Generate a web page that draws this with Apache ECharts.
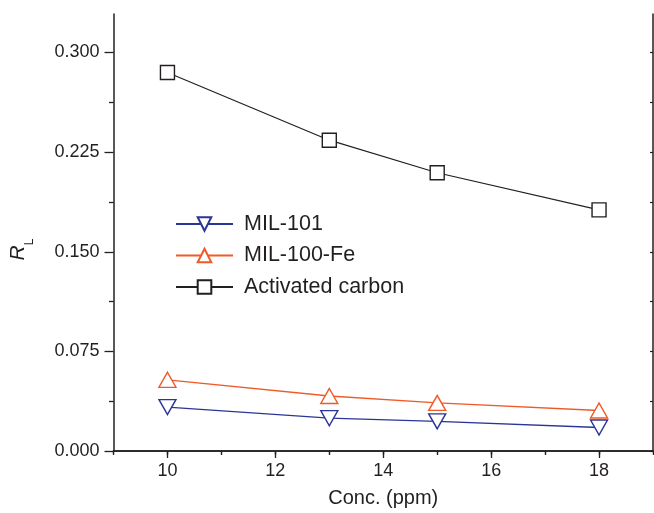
<!DOCTYPE html>
<html>
<head>
<meta charset="utf-8">
<script src="https://cdn.jsdelivr.net/npm/echarts@6/dist/echarts.min.js"></script>
<style>
  html, body { margin: 0; padding: 0; background: #fff; }
  #chart { width: 654px; height: 513px; }
</style>
</head>
<body>
<div id="chart"></div>
<script>
// Separation factor R_L against initial concentration for three adsorbents
const concentrations = [10, 13, 15, 18];
const mil101 = [0.0331, 0.0247, 0.0223, 0.0177];
const mil100Fe = [0.0536, 0.0414, 0.0362, 0.0305];
const activatedCarbon = [0.285, 0.234, 0.2095, 0.1815];

const seriesNames = ['MIL-101', 'MIL-100-Fe', 'Activated carbon'];
const xTickLabels = [10, 12, 14, 16, 18];
const yTickLabels = [0, 0.075, 0.15, 0.225, 0.3];
const yMinorTicks = [0.0375, 0.1125, 0.1875, 0.2625];

const ink = '#231f20';
const font = 'Liberation Sans, Arial, sans-serif';
const blue = '#2b3595';
const orange = '#f05a28';

const X_MIN = 9, X_MAX = 19, Y_MIN = 0, Y_MAX = 0.329;

function pairs(values) {
  return concentrations.map((c, i) => [c, values[i]]);
}

const chart = echarts.init(document.getElementById('chart'), null, { renderer: 'canvas' });

const axisLine = { show: true, lineStyle: { color: ink, width: 1.5 } };

chart.setOption({
  animation: false,
  backgroundColor: '#fff',
  textStyle: { fontFamily: font, color: ink },
  grid: { left: 111, right: 1, top: 14, bottom: 60 },
  legend: {
    data: seriesNames,
    orient: 'vertical',
    left: 170,
    top: 208,
    padding: 5,
    itemWidth: 57,
    itemHeight: 17,
    itemGap: 9.5,
    textStyle: { fontFamily: font, fontSize: 21.5, color: ink, lineHeight: 20, padding: [0, 0, 0, 6] }
  },
  xAxis: [
    {
      type: 'value', position: 'bottom', min: X_MIN, max: X_MAX,
      axisLine: axisLine,
      axisTick: { show: true, customValues: xTickLabels, length: 7, lineStyle: { color: ink, width: 1.3 } },
      axisLabel: { customValues: xTickLabels, fontFamily: font, fontSize: 18, color: ink, margin: 11 },
      splitLine: { show: false },
      name: 'Conc. (ppm)', nameLocation: 'middle', nameGap: 37,
      nameTextStyle: { fontFamily: font, fontSize: 20, color: ink }
    },
    {
      type: 'value', position: 'bottom', min: X_MIN, max: X_MAX, interval: 1,
      axisLine: { show: false },
      axisTick: { show: true, length: 4, lineStyle: { color: ink, width: 1.3 } },
      axisLabel: { show: false }, splitLine: { show: false }
    },
    {
      type: 'value', position: 'top', min: X_MIN, max: X_MAX, interval: 1,
      axisLine: axisLine,
      axisTick: { show: true, inside: true, length: 3, lineStyle: { color: ink, width: 1.2 } },
      axisLabel: { show: false }, splitLine: { show: false }
    }
  ],
  yAxis: [
    {
      type: 'value', position: 'left', min: Y_MIN, max: Y_MAX,
      axisLine: axisLine,
      axisTick: { show: true, customValues: yTickLabels, length: 9, lineStyle: { color: ink, width: 1.3 } },
      axisLabel: {
        customValues: yTickLabels, fontFamily: font, fontSize: 18, color: ink, margin: 14,
        formatter: v => v.toFixed(3)
      },
      splitLine: { show: false },
      name: '{r|R}{l|L}', nameLocation: 'middle', nameGap: 78, nameRotate: 90,
      nameTextStyle: {
        padding: [0, 34, 0, 0],
        rich: {
          r: { fontFamily: font, fontSize: 21, fontStyle: 'italic', color: ink, lineHeight: 34, verticalAlign: 'middle' },
          l: { fontFamily: font, fontSize: 12, color: ink, verticalAlign: 'bottom' }
        }
      }
    },
    {
      type: 'value', position: 'left', min: Y_MIN, max: Y_MAX,
      axisLine: { show: false },
      axisTick: { show: true, customValues: yMinorTicks, length: 4.5, lineStyle: { color: ink, width: 1.3 } },
      axisLabel: { show: false }, splitLine: { show: false }
    },
    {
      type: 'value', position: 'right', min: Y_MIN, max: Y_MAX,
      axisLine: axisLine,
      axisTick: { show: true, inside: true, customValues: yTickLabels.concat(yMinorTicks), length: 3, lineStyle: { color: ink, width: 1.2 } },
      axisLabel: { show: false }, splitLine: { show: false }
    }
  ],
  series: [
    {
      name: seriesNames[0], type: 'line', data: pairs(mil101),
      symbol: 'triangle', symbolRotate: 180, symbolSize: [17, 15],
      itemStyle: { color: '#fff', borderColor: blue, borderWidth: 1.4 },
      lineStyle: { color: blue, width: 1.3 }, z: 3
    },
    {
      name: seriesNames[1], type: 'line', data: pairs(mil100Fe),
      symbol: 'triangle', symbolSize: [17, 15],
      itemStyle: { color: '#fff', borderColor: orange, borderWidth: 1.4 },
      lineStyle: { color: orange, width: 1.3 }, z: 3
    },
    {
      name: seriesNames[2], type: 'line', data: pairs(activatedCarbon),
      symbol: 'rect', symbolSize: 14,
      itemStyle: { color: '#fff', borderColor: ink, borderWidth: 1.4 },
      lineStyle: { color: ink, width: 1.2 }, z: 3
    }
  ]
});
</script>
</body>
</html>
